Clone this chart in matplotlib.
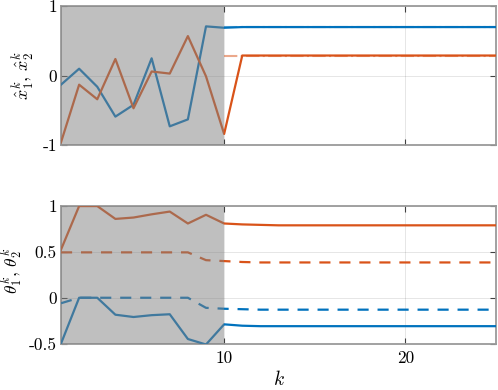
import matplotlib
matplotlib.use('Agg')
import matplotlib.pyplot as plt
import numpy as np

# --- 設定 ---
plt.rcParams['font.family'] = 'serif'
plt.rcParams['font.serif'] = ['cmr10', 'DejaVu Serif']
plt.rcParams['mathtext.fontset'] = 'cm'
plt.rcParams['axes.unicode_minus'] = False
plt.rcParams['font.size'] = 11

BLUE = '#0072BD'
ORANGE = '#D95319'

# --- データ ---
k = list(range(1, 26))

# 上段: 状態推定
x1_hat = [-0.13, 0.10, -0.16, -0.59, -0.42, 0.25, -0.73, -0.63, 0.71, 0.69,
          0.70, 0.70, 0.70, 0.70, 0.70, 0.70, 0.70, 0.70, 0.70, 0.70,
          0.70, 0.70, 0.70, 0.70, 0.70]
x2_hat = [-0.96, -0.13, -0.34, 0.24, -0.47, 0.06, 0.03, 0.57, -0.01, -0.84,
          0.29, 0.29, 0.29, 0.29, 0.29, 0.29, 0.29, 0.29, 0.29, 0.29,
          0.29, 0.29, 0.29, 0.29, 0.29]
k_ref = [10, 25]
x1_ref = [0.70, 0.70]
x2_ref = [0.29, 0.29]

# 下段: パラメータ
theta1 = [-0.50, 0.00, 0.00, -0.185, -0.21, -0.19, -0.18, -0.45, -0.51, -0.29,
          -0.305, -0.31, -0.31, -0.31, -0.31, -0.31, -0.31, -0.31, -0.31, -0.31,
          -0.31, -0.31, -0.31, -0.31, -0.31]
theta2 = [0.525, 1.00, 1.00, 0.86, 0.875, 0.91, 0.94, 0.81, 0.905, 0.81,
          0.80, 0.795, 0.79, 0.79, 0.79, 0.79, 0.79, 0.79, 0.79, 0.79,
          0.79, 0.79, 0.79, 0.79, 0.79]
theta1_dash = [-0.06, 0.00, 0.00, 0.00, 0.00, 0.00, 0.00, 0.00, -0.11, -0.12,
               -0.125, -0.13, -0.13, -0.13, -0.13, -0.13, -0.13, -0.13, -0.13, -0.13,
               -0.13, -0.13, -0.13, -0.13, -0.13]
theta2_dash = [0.495, 0.495, 0.495, 0.495, 0.495, 0.495, 0.495, 0.495, 0.41, 0.40,
               0.39, 0.385, 0.385, 0.385, 0.385, 0.385, 0.385, 0.385, 0.385, 0.385,
               0.385, 0.385, 0.385, 0.385, 0.385]

SHADE_END = 10


def style_axes(ax, yticks, yticklabels, ylim, show_xlabels):
    ax.set_xlim(1, 25)
    ax.set_ylim(*ylim)
    ax.set_xticks([10, 20])
    if show_xlabels:
        ax.set_xticklabels(['10', '20'])
    else:
        ax.set_xticklabels([])
    ax.set_yticks(yticks)
    ax.set_yticklabels(yticklabels)
    ax.tick_params(direction='in', length=4, width=0.8, color='#404040',
                   top=True, right=True, labelsize=12.5, pad=3)
    ax.tick_params(axis='x', pad=5)
    ax.grid(True, color='k', alpha=0.1, linewidth=0.7)
    ax.set_axisbelow(True)
    for sp in ax.spines.values():
        sp.set_color('#9a9a9a')
        sp.set_linewidth(1.3)
    # 網掛け (線の上に半透明で重ねる)
    ax.axvspan(1, SHADE_END, color='#808080', alpha=0.5, lw=0, zorder=5)


fig = plt.figure(figsize=(4.98, 3.90), dpi=100)
ax1 = fig.add_axes([0.1225, 0.628, 0.8735, 0.356])
ax2 = fig.add_axes([0.1225, 0.119, 0.8735, 0.3526])

# 上段
ax1.plot(k_ref, x1_ref, '-.', color=BLUE, lw=1.5, alpha=0.5, zorder=2)
ax1.plot(k_ref, x2_ref, '-.', color=ORANGE, lw=1.5, alpha=0.5, zorder=2)
ax1.plot(k, x1_hat, color=BLUE, lw=1.6, zorder=3)
ax1.plot(k, x2_hat, color=ORANGE, lw=1.6, zorder=3)
style_axes(ax1, [-1, 0, 1], ['-1', '0', '1'], (-1, 1), False)
ax1.set_ylabel(r'$\hat{x}_1^k,\, \hat{x}_2^k$', fontsize=13)
ax1.yaxis.set_label_coords(-0.057, 0.5)

# 下段
ax2.plot(k, theta2, color=ORANGE, lw=1.6, zorder=3)
ax2.plot(k, theta2_dash, '--', color=ORANGE, lw=1.6, zorder=3, dashes=(5, 4))
ax2.plot(k, theta1_dash, '--', color=BLUE, lw=1.6, zorder=3, dashes=(5, 4))
ax2.plot(k, theta1, color=BLUE, lw=1.6, zorder=3)
style_axes(ax2, [-0.5, 0, 0.5, 1], ['-0.5', '0', '0.5', '1'], (-0.5, 1), True)
ax2.set_ylabel(r'$\theta_1^k,\, \theta_2^k$', fontsize=12.5)
ax2.yaxis.set_label_coords(-0.083, 0.53)
ax2.set_xlabel(r'$k$', fontsize=14, labelpad=3)

fig.savefig('out.png', dpi=100)
plt.close(fig)
